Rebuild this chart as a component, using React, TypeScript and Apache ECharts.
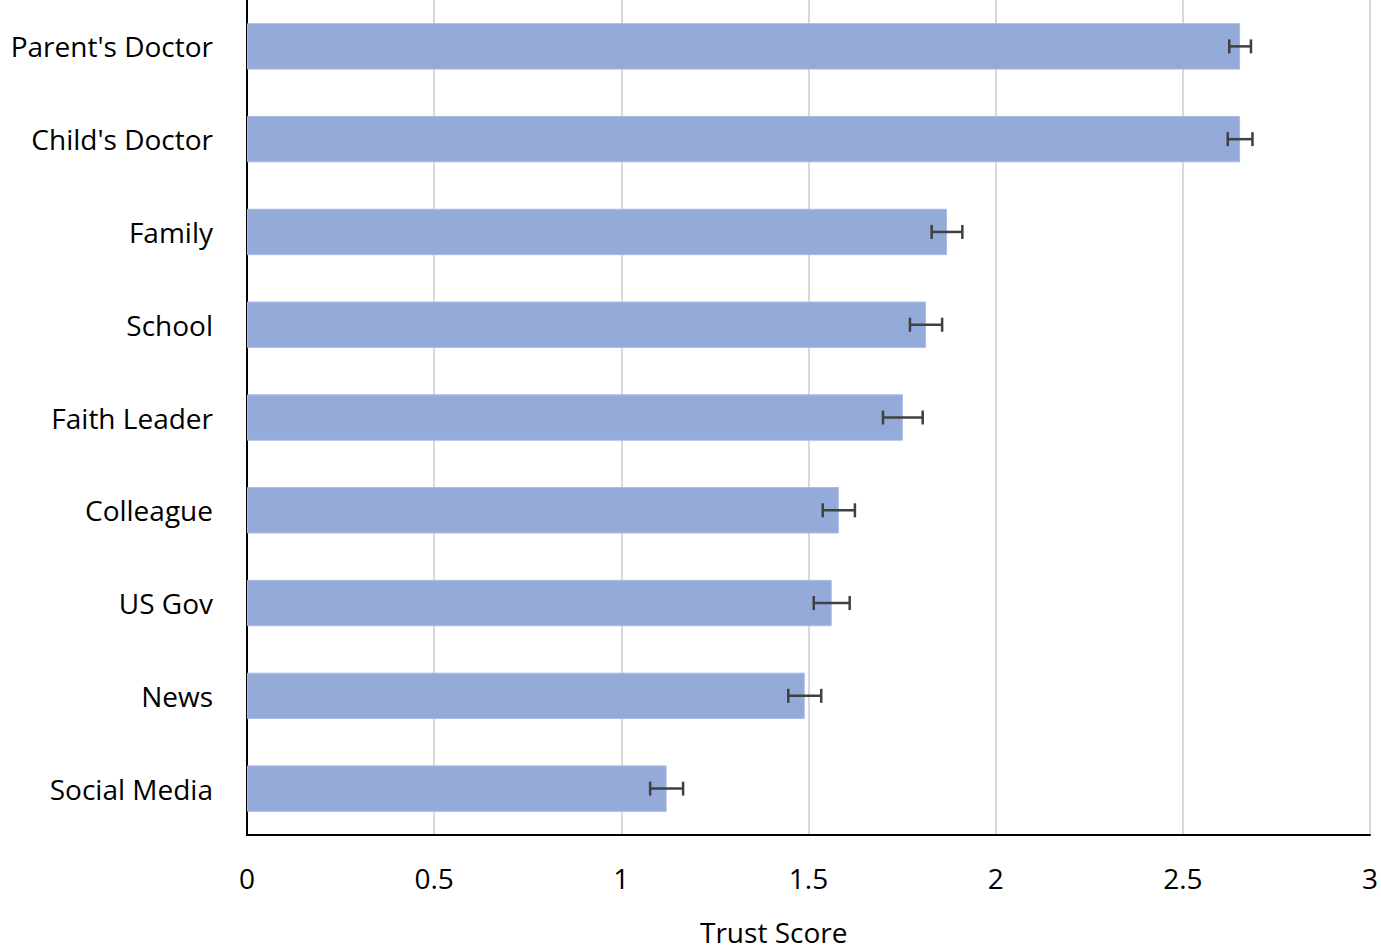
import React, { useEffect, useRef } from "react";
import * as echarts from "echarts";

const categories = [
  "Parent's Doctor",
  "Child's Doctor",
  "Family",
  "School",
  "Faith Leader",
  "Colleague",
  "US Gov",
  "News",
  "Social Media",
];
const trustScores = [2.653, 2.653, 1.87, 1.814, 1.752, 1.581, 1.562, 1.49, 1.121];
const errorMargins = [0.029, 0.033, 0.041, 0.043, 0.053, 0.043, 0.048, 0.044, 0.044];
const xTicks = { min: 0, max: 3, interval: 0.5 };

const FONT = "'Open Sans', 'Noto Sans', sans-serif";

export default function App() {
  const ref = useRef<HTMLDivElement>(null);
  useEffect(() => {
    if (!ref.current) return;
    const chart = echarts.init(ref.current, undefined, { renderer: "svg" });
    const errData = trustScores.map((v, i) => [i, v - errorMargins[i], v + errorMargins[i]]);
    chart.setOption({
      animation: false,
      backgroundColor: "#ffffff",
      grid: { left: 247, right: 9, top: -2, bottom: 115, containLabel: false },
      xAxis: {
        type: "value",
        min: xTicks.min,
        max: xTicks.max,
        interval: xTicks.interval,
        axisLine: { show: true, lineStyle: { color: "#000", width: 2 } },
        axisTick: { show: false },
        axisLabel: {
          color: "#000",
          fontSize: 28,
          fontFamily: FONT,
          margin: 29,
          formatter: (v: number) => String(v),
        },
        splitLine: { show: true, lineStyle: { color: "#d9d9d9", width: 2 } },
      },
      yAxis: {
        type: "category",
        data: categories,
        inverse: true,
        axisLine: { show: true, lineStyle: { color: "#000", width: 2 } },
        axisTick: { show: false },
        axisLabel: { color: "#000", fontSize: 28, fontFamily: FONT, margin: 34 },
        splitLine: { show: false },
      },
      graphic: [
        {
          type: "text",
          left: 700,
          top: 917,
          style: {
            text: "Trust Score",
            fontSize: 28,
            lineHeight: 30,
            fontFamily: FONT,
            fill: "#000",
          },
        },
      ],
      series: [
        {
          type: "bar",
          data: trustScores,
          barWidth: "50%",
          itemStyle: { color: "#94AAD9", borderColor: "#A9BBE3", borderWidth: 1 },
          z: 2,
        },
        {
          type: "custom",
          data: errData,
          z: 3,
          renderItem: (params: any, api: any) => {
            const idx = api.value(0);
            const lo = api.coord([api.value(1), idx]);
            const hi = api.coord([api.value(2), idx]);
            const y = lo[1];
            const cap = 7;
            const style = { stroke: "#404040", lineWidth: 2.5 };
            return {
              type: "group",
              children: [
                { type: "line", shape: { x1: lo[0], y1: y, x2: hi[0], y2: y }, style },
                { type: "line", shape: { x1: lo[0], y1: y - cap, x2: lo[0], y2: y + cap }, style },
                { type: "line", shape: { x1: hi[0], y1: y - cap, x2: hi[0], y2: y + cap }, style },
              ],
            };
          },
        },
      ],
    });
    return () => chart.dispose();
  }, []);
  return (
    <div
      ref={ref}
      style={{ position: "fixed", left: 0, top: 0, width: 1381, height: 950, background: "#fff" }}
    />
  );
}
